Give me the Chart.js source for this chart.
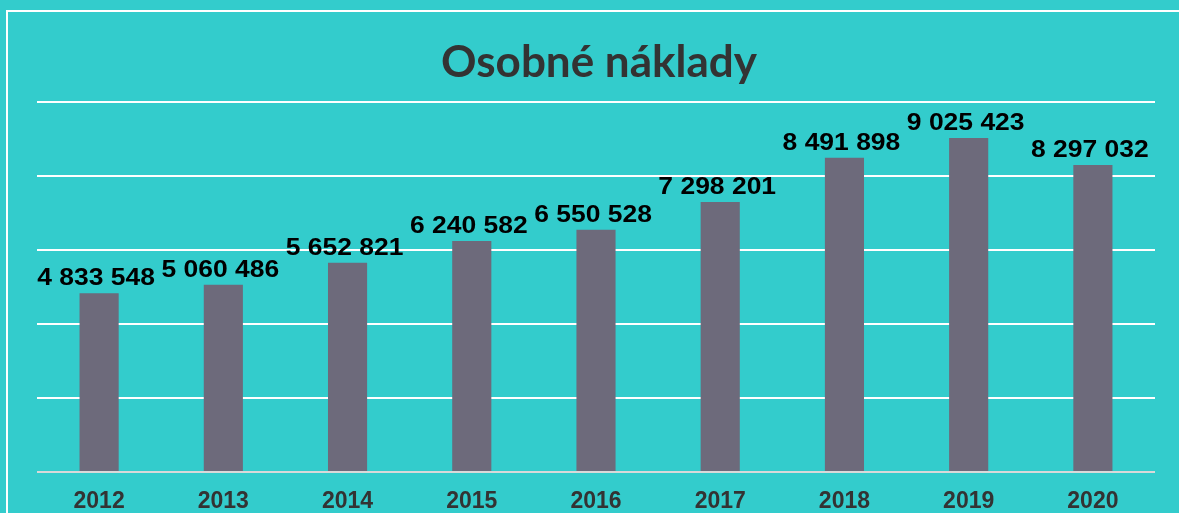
<!DOCTYPE html>
<html>
<head>
<meta charset="utf-8">
<script src="https://cdn.jsdelivr.net/npm/chart.js@4"></script>
<style>
  html, body { margin: 0; padding: 0; background: #33CCCC; }
  canvas { display: block; }
</style>
</head>
<body>
<canvas id="c" width="1179" height="513"></canvas>
<script>
const chartTitle = "Osobné náklady";
const years = ["2012", "2013", "2014", "2015", "2016", "2017", "2018", "2019", "2020"];
const costs = [4833548, 5060486, 5652821, 6240582, 6550528, 7298201, 8491898, 9025423, 8297032];
const yMax = 10000000;
const yStep = 2000000;

function fmt(v) {
  return String(v).replace(/\B(?=(\d{3})+(?!\d))/g, " ");
}

const decorPlugin = {
  id: "decor",
  beforeDraw(chart) {
    const ctx = chart.ctx;
    ctx.save();
    ctx.fillStyle = "#33CCCC";
    ctx.fillRect(0, 0, chart.width, chart.height);
    ctx.strokeStyle = "#FFFFFF";
    ctx.lineWidth = 2;
    ctx.strokeRect(7, 11, chart.width + 20, chart.height + 20);
    ctx.restore();
  },
  afterDraw(chart) {
    const ctx = chart.ctx;
    ctx.save();
    ctx.fillStyle = "#333333";
    ctx.font = "bold 44px Lato";
    ctx.textAlign = "center";
    ctx.textBaseline = "alphabetic";
    ctx.fillText(chartTitle, 599, 77);
    ctx.restore();
  }
};

const labelPlugin = {
  id: "valueLabels",
  afterDatasetsDraw(chart) {
    const ctx = chart.ctx;
    const meta = chart.getDatasetMeta(0);
    const sx = 1.08;
    ctx.save();
    ctx.fillStyle = "#000000";
    ctx.font = "bold 24.5px 'Liberation Sans', Arial, sans-serif";
    ctx.textAlign = "center";
    ctx.textBaseline = "alphabetic";
    meta.data.forEach((bar, i) => {
      ctx.save();
      ctx.translate(bar.x - 3, bar.y - 8);
      ctx.scale(sx, 1);
      ctx.fillText(fmt(chart.data.datasets[0].data[i]), 0, 0);
      ctx.restore();
    });
    ctx.restore();
  }
};

new Chart(document.getElementById("c"), {
  type: "bar",
  data: {
    labels: years,
    datasets: [{
      data: costs,
      backgroundColor: "#6D6A7B",
      borderWidth: 0,
      categoryPercentage: 1,
      barPercentage: 0.315
    }]
  },
  options: {
    responsive: false,
    devicePixelRatio: 1,
    animation: false,
    layout: { padding: { top: 102, left: 37, right: 24, bottom: 0 } },
    plugins: {
      legend: { display: false },
      title: { display: false },
      tooltip: { enabled: false }
    },
    scales: {
      x: {
        afterFit(scale) { scale.height = 41; },
        grid: { display: false, drawTicks: false },
        border: { display: false },
        ticks: {
          color: "#333333",
          padding: 16,
          font: { family: "'Liberation Sans', Arial, sans-serif", size: 23, weight: "bold" }
        }
      },
      y: {
        min: 0,
        max: yMax,
        border: { display: false },
        grid: {
          drawTicks: false,
          lineWidth: 2,
          color: (ctx) => ctx.tick && ctx.tick.value === 0 ? "#D9D9D9" : "#FFFFFF"
        },
        ticks: { display: false, stepSize: yStep }
      }
    }
  },
  plugins: [decorPlugin, labelPlugin]
});
</script>
</body>
</html>
